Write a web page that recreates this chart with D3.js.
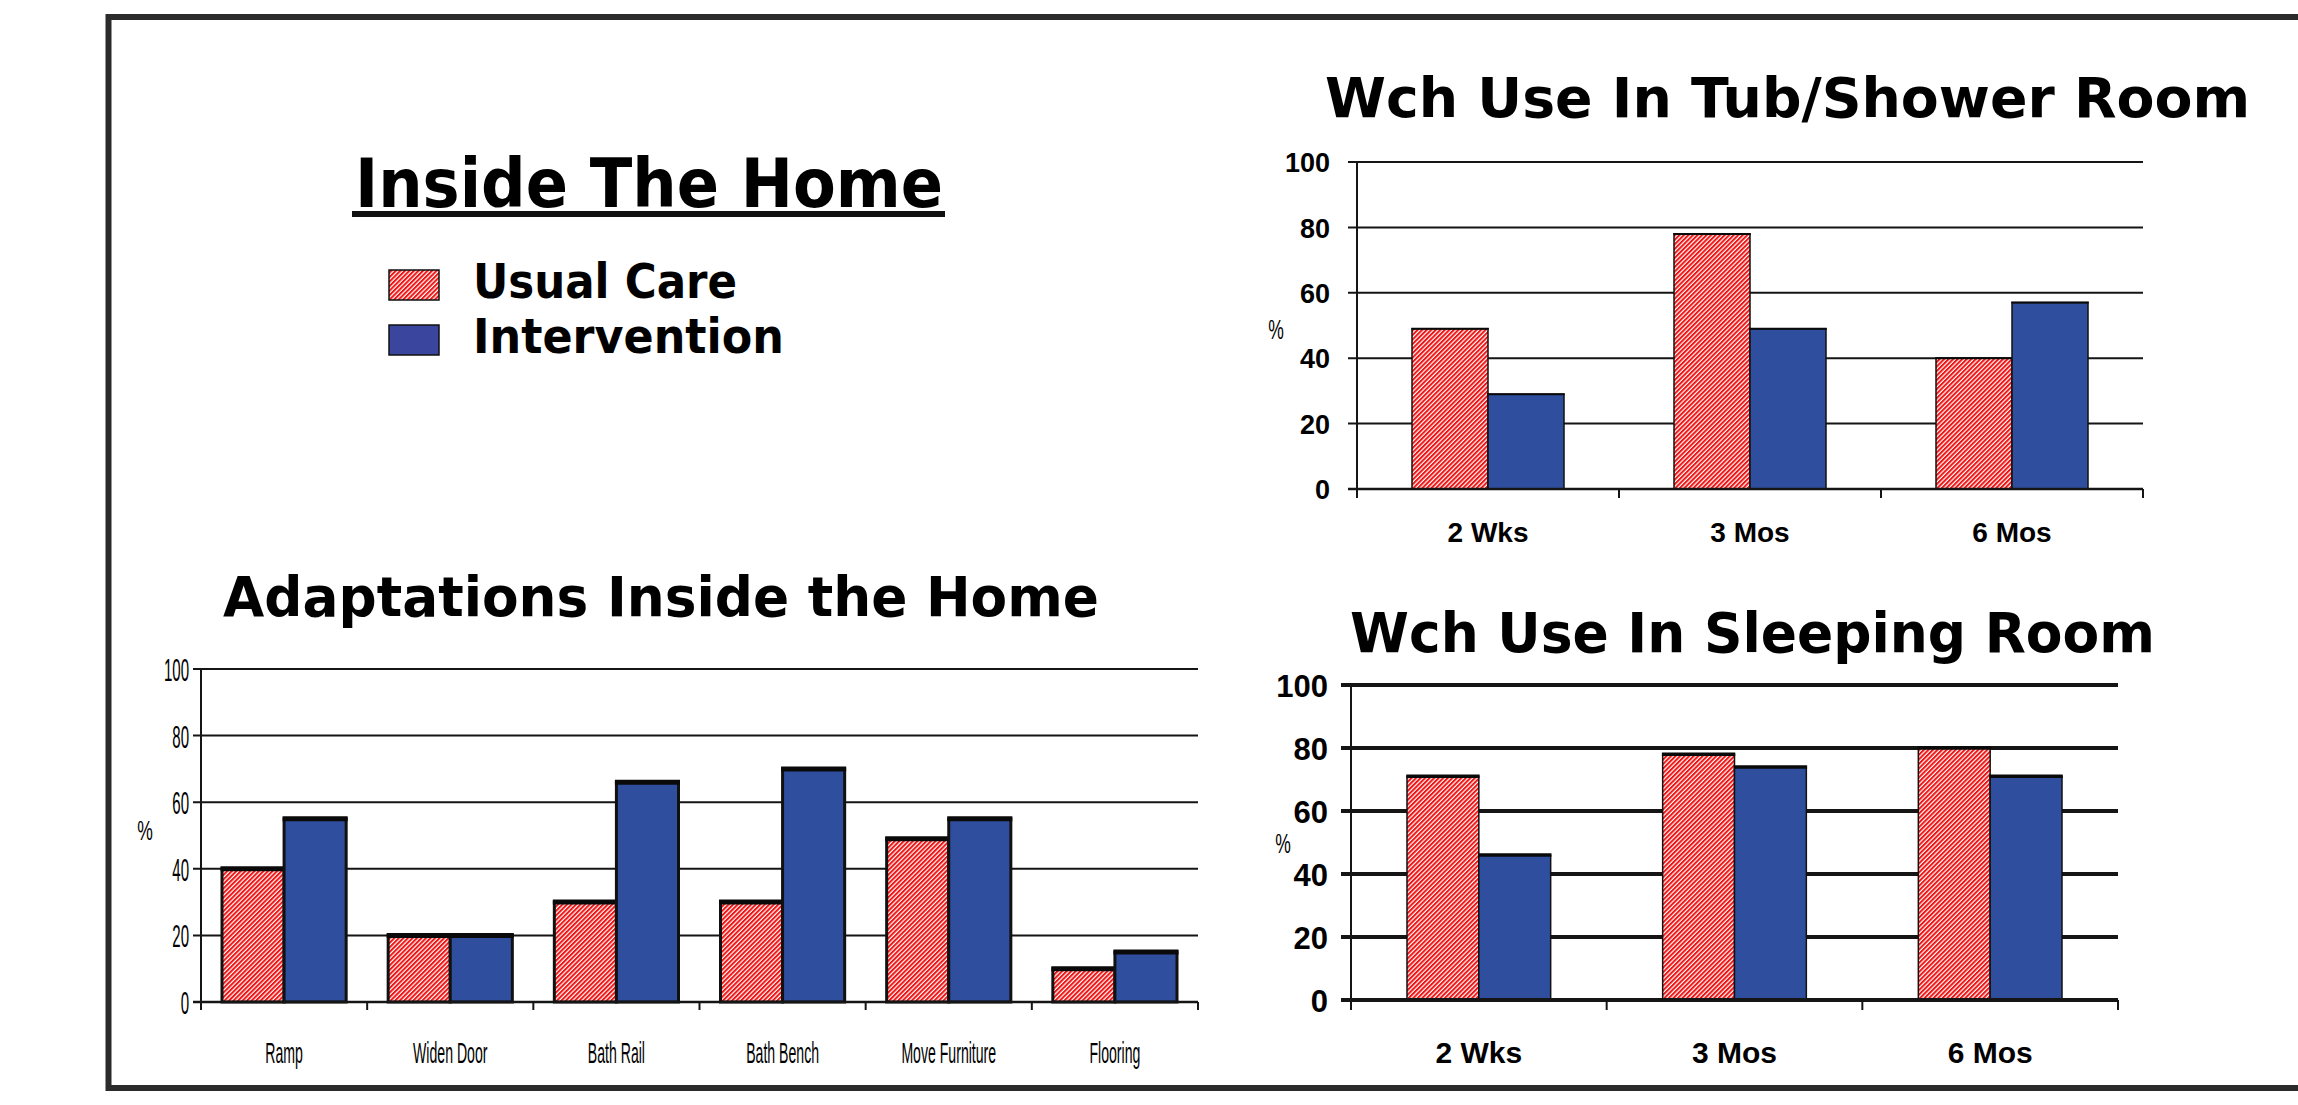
<!DOCTYPE html>
<html>
<head>
<meta charset="utf-8">
<script src="https://cdn.jsdelivr.net/npm/d3@7"></script>
<style>
    body { margin: 0; background: #fff; }
    svg { display: block; }
</style>
</head>
<body>
<svg id="chart" width="2298" height="1105"></svg>
<script>
// ---- data ----
const seriesNames = ["Usual Care", "Intervention"];
const yTicks = [0, 20, 40, 60, 80, 100];

const tubCategories = ["2 Wks", "3 Mos", "6 Mos"];
const tubUsualCare = [49, 78, 40];
const tubIntervention = [29, 49, 57];

const sleepCategories = ["2 Wks", "3 Mos", "6 Mos"];
const sleepUsualCare = [71, 78, 80];
const sleepIntervention = [46, 74, 71];

const adaptCategories = ["Ramp", "Widen Door", "Bath Rail", "Bath Bench", "Move Furniture", "Flooring"];
const adaptUsualCare = [40, 20, 30, 30, 49, 10];
const adaptIntervention = [55, 20, 66, 70, 55, 15];

const BLUE = "#2f4f9e";
const TITLE_FONT = "'DejaVu Sans', Verdana, sans-serif";
const AXIS_FONT = "'Liberation Sans', Arial, sans-serif";

const svg = d3.select("#chart");

// hatch pattern for usual care
const defs = svg.append("defs");
const hatch = defs.append("pattern")
    .attr("id", "hatch")
    .attr("patternUnits", "userSpaceOnUse")
    .attr("width", 3.2)
    .attr("height", 3.2)
    .attr("patternTransform", "rotate(45)");
hatch.append("rect").attr("width", 3.2).attr("height", 3.2).attr("fill", "#fff");
hatch.append("rect").attr("width", 2).attr("height", 3.2).attr("fill", "#f01414");

// frame
svg.append("path")
    .attr("d", "M2300,17 H108.5 V1088 H2300")
    .attr("fill", "none")
    .attr("stroke", "#2b2b2b")
    .attr("stroke-width", 6);

// big heading + legend
svg.append("text")
    .attr("x", 355).attr("y", 207)
    .attr("textLength", 588).attr("lengthAdjust", "spacingAndGlyphs")
    .style("font-family", TITLE_FONT).style("font-weight", "bold").style("font-size", "68px")
    .text("Inside The Home");
svg.append("rect").attr("x", 352).attr("y", 211).attr("width", 593).attr("height", 6).attr("fill", "#111");

const legendRows = [
    { name: seriesNames[0], fill: "url(#hatch)", y: 270, len: 264 },
    { name: seriesNames[1], fill: "#3a469e", y: 325, len: 311 }
];
const legend = svg.append("g").selectAll("g").data(legendRows).join("g");
legend.append("rect")
    .attr("x", 389).attr("y", d => d.y).attr("width", 50).attr("height", 30)
    .attr("fill", d => d.fill).attr("stroke", "#111").attr("stroke-width", 1.5);
legend.append("text")
    .attr("x", 473).attr("y", d => d.y + 28)
    .attr("textLength", d => d.len).attr("lengthAdjust", "spacingAndGlyphs")
    .style("font-family", TITLE_FONT).style("font-weight", "bold").style("font-size", "48px")
    .text(d => d.name);

function drawChart(cfg) {
    const g = svg.append("g");

    const x0 = d3.scaleBand().domain(cfg.categories).range([cfg.left, cfg.right]);
    const x1 = d3.scaleBand().domain(seriesNames).range([cfg.inset, x0.bandwidth() - cfg.inset]);
    const y = d3.scaleLinear().domain([0, 100]).range([cfg.bottom, cfg.top]);

    // title
    g.append("text")
        .attr("x", cfg.titleX).attr("y", cfg.titleY)
        .attr("textLength", cfg.titleLen).attr("lengthAdjust", "spacingAndGlyphs")
        .style("font-family", TITLE_FONT).style("font-weight", "bold").style("font-size", "56px")
        .text(cfg.title);

    // grid lines (behind bars)
    g.append("g").selectAll("line").data(yTicks.filter(d => d > 0)).join("line")
        .attr("x1", cfg.left - cfg.tick).attr("x2", cfg.right)
        .attr("y1", d => y(d)).attr("y2", d => y(d))
        .attr("stroke", "#151515").attr("stroke-width", cfg.gridWidth);

    // bars
    const series = [
        { name: seriesNames[0], values: cfg.usual, fill: "url(#hatch)" },
        { name: seriesNames[1], values: cfg.intervention, fill: BLUE }
    ];
    const groups = g.append("g").selectAll("g").data(cfg.categories).join("g")
        .attr("transform", c => `translate(${x0(c)},0)`);
    const bars = groups.selectAll("g").data((c, i) => series.map(s => ({ name: s.name, v: s.values[i], fill: s.fill })))
        .join("g");
    bars.append("rect")
        .attr("x", d => x1(d.name)).attr("y", d => y(d.v))
        .attr("width", x1.bandwidth()).attr("height", d => y(0) - y(d.v))
        .attr("fill", d => d.fill)
        .attr("stroke", "#111").attr("stroke-width", cfg.barStroke);
    bars.append("line")
        .attr("x1", d => x1(d.name) - cfg.barStroke / 2).attr("x2", d => x1(d.name) + x1.bandwidth() + cfg.barStroke / 2)
        .attr("y1", d => y(d.v)).attr("y2", d => y(d.v))
        .attr("stroke", "#0a0a0a").attr("stroke-width", cfg.topStroke);

    // zero line + y axis line
    g.append("line")
        .attr("x1", cfg.left - cfg.tick).attr("x2", cfg.right)
        .attr("y1", y(0)).attr("y2", y(0))
        .attr("stroke", "#151515").attr("stroke-width", cfg.zeroWidth);
    g.append("line")
        .attr("x1", cfg.left).attr("x2", cfg.left)
        .attr("y1", y(100)).attr("y2", y(0) + cfg.tick)
        .attr("stroke", "#151515").attr("stroke-width", 2);

    // x ticks at category boundaries
    const bounds = cfg.categories.map(c => x0(c)).concat([cfg.right]);
    g.append("g").selectAll("line").data(bounds).join("line")
        .attr("x1", d => d).attr("x2", d => d)
        .attr("y1", y(0)).attr("y2", y(0) + cfg.tick)
        .attr("stroke", "#151515").attr("stroke-width", 2);

    // y tick labels
    const yAxis = g.append("g")
        .attr("transform", `translate(${cfg.yLabelX},0)`)
        .call(d3.axisLeft(y).tickValues(yTicks).tickSize(0).tickPadding(0));
    yAxis.select(".domain").remove();
    yAxis.selectAll("text")
        .attr("x", null).attr("dy", null)
        .attr("transform", `translate(0,${cfg.yLabelSize * 0.36}) scale(${cfg.squeeze},1)`)
        .attr("fill", "#000")
        .style("font-family", AXIS_FONT).style("font-weight", cfg.labelWeight)
        .style("font-size", cfg.yLabelSize + "px");

    // category labels
    const xAxis = g.append("g")
        .attr("transform", `translate(0,${cfg.xLabelY})`)
        .call(d3.axisBottom(x0).tickSize(0).tickPadding(0));
    xAxis.select(".domain").remove();
    xAxis.selectAll("text")
        .attr("y", null).attr("dy", null)
        .attr("transform", `scale(${cfg.squeeze},1)`)
        .attr("fill", "#000")
        .style("font-family", AXIS_FONT).style("font-weight", cfg.labelWeight)
        .style("font-size", cfg.xLabelSize + "px");

    // % label
    g.append("text")
        .attr("transform", `translate(${cfg.pctX},${cfg.pctY}) scale(0.65,1)`)
        .attr("text-anchor", "middle")
        .style("font-family", AXIS_FONT).style("font-size", "27px")
        .text("%");
}

drawChart({
    title: "Wch Use In Tub/Shower Room", titleX: 1325, titleY: 117, titleLen: 925,
    categories: tubCategories, usual: tubUsualCare, intervention: tubIntervention,
    left: 1357, right: 2143, top: 162, bottom: 489, inset: 55, tick: 9,
    gridWidth: 2, zeroWidth: 2.5, barStroke: 1.5, topStroke: 2,
    yLabelX: 1330, yLabelSize: 27, xLabelY: 542, xLabelSize: 28, labelWeight: "bold", squeeze: 1,
    pctX: 1276, pctY: 339
});

drawChart({
    title: "Wch Use In Sleeping Room", titleX: 1350, titleY: 652, titleLen: 805,
    categories: sleepCategories, usual: sleepUsualCare, intervention: sleepIntervention,
    left: 1351, right: 2118, top: 685, bottom: 1000, inset: 56, tick: 10,
    gridWidth: 4, zeroWidth: 4, barStroke: 1.5, topStroke: 3.5,
    yLabelX: 1328, yLabelSize: 31, xLabelY: 1063, xLabelSize: 30, labelWeight: "bold", squeeze: 1,
    pctX: 1283, pctY: 853
});

drawChart({
    title: "Adaptations Inside the Home", titleX: 223, titleY: 616, titleLen: 876,
    categories: adaptCategories, usual: adaptUsualCare, intervention: adaptIntervention,
    left: 201, right: 1198, top: 669, bottom: 1002, inset: 21, tick: 8,
    gridWidth: 2, zeroWidth: 2.5, barStroke: 3, topStroke: 5,
    yLabelX: 189, yLabelSize: 32, xLabelY: 1063, xLabelSize: 30, labelWeight: "normal", squeeze: 0.47,
    pctX: 145, pctY: 840
});
</script>
</body>
</html>
